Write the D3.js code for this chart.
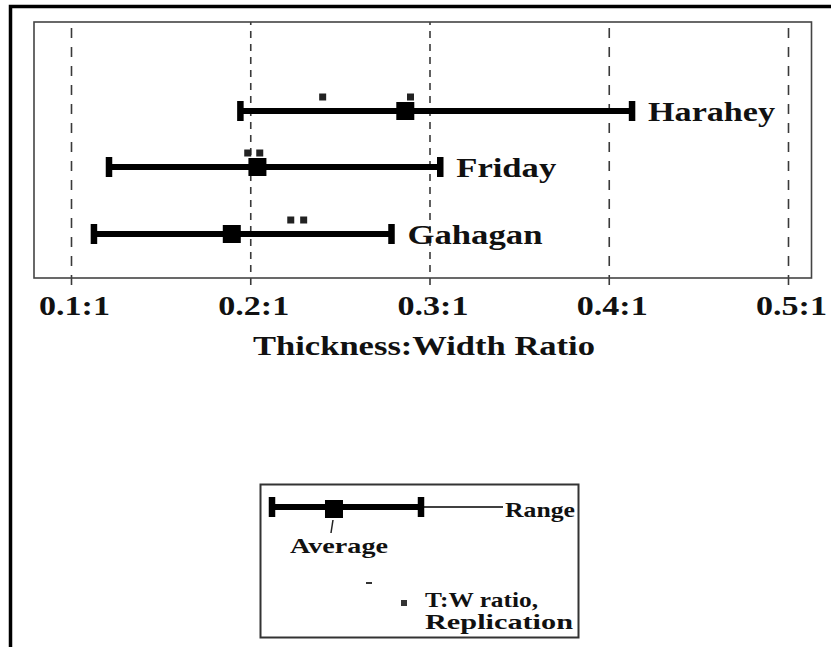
<!DOCTYPE html>
<html>
<head>
<meta charset="utf-8">
<script src="https://cdn.jsdelivr.net/npm/d3@7"></script>
<style>
  html, body { margin: 0; padding: 0; background: #fff; }
  svg { display: block; }
  svg text { font-family: "Liberation Serif", Tinos, "Times New Roman", Times, "Nimbus Roman", "Nimbus Roman No9 L", FreeSerif, serif; font-weight: bold; fill: #111; }
</style>
</head>
<body>
<svg id="chart" width="831" height="647"></svg>
<script>
// ---------- data ----------
const categories = ["Harahey", "Friday", "Gahagan"];
const minValues = [0.1945, 0.1212, 0.1128];
const maxValues = [0.4130, 0.3060, 0.2788];
const avgValues = [0.2865, 0.2040, 0.1897];
const replicationValues = [[0.2404, 0.2894], [0.1986, 0.2053], [0.2226, 0.2298]];
const tickValues = [0.1, 0.2, 0.3, 0.4, 0.5];
const tickLabels = ["0.1:1", "0.2:1", "0.3:1", "0.4:1", "0.5:1"];
const axisTitle = "Thickness:Width Ratio";
const legendSample = [0, 0.416, 1]; // min, average, max of schematic bar
const legendLabels = ["Range", "Average", "T:W ratio,", "Replication"];

// ---------- layout ----------
const FONT = '"Liberation Serif", Tinos, "Times New Roman", Times, "Nimbus Roman", FreeSerif, serif';
const svg = d3.select("#chart");
const box = { left: 34, top: 22, right: 811.5, bottom: 278 };

const x = d3.scaleLinear().domain([0.1, 0.5]).range([71, 788]);
const y = d3.scaleOrdinal().domain(categories).range([111, 167, 234]);

// outer frame
svg.append("rect")
  .attr("x", 10.5).attr("y", 6.5).attr("width", 1000).attr("height", 1000)
  .attr("fill", "none").attr("stroke", "#000").attr("stroke-width", 3.5);

// gridlines + tick labels via axis
const axisY = 285;
const axis = d3.axisBottom(x)
  .tickValues(tickValues)
  .tickFormat((d, i) => tickLabels[i])
  .tickSizeInner(-(axisY - box.top))
  .tickSizeOuter(0);

const gAxis = svg.append("g").attr("transform", `translate(0,${axisY})`).call(axis);
gAxis.attr("font-family", FONT);
gAxis.select(".domain").remove();
gAxis.selectAll(".tick line")
  .attr("stroke", "#3a3a3a").attr("stroke-width", 1.6)
  .attr("stroke-dasharray", (d, i) => (i === 1 || i === 2) ? "7,6" : "10,9");
gAxis.selectAll(".tick text")
  .attr("y", 30).attr("dy", 0).attr("dx", 3)
  .attr("font-size", 28)
  .attr("textLength", 71).attr("lengthAdjust", "spacingAndGlyphs")
  .style("font-family", FONT).style("font-weight", "bold")
  .attr("fill", "#111");

// inner plot box
svg.append("rect")
  .attr("x", box.left).attr("y", box.top)
  .attr("width", box.right - box.left).attr("height", box.bottom - box.top)
  .attr("fill", "none").attr("stroke", "#444").attr("stroke-width", 1.6);

// axis title
svg.append("text")
  .attr("x", 424).attr("y", 355).attr("text-anchor", "middle")
  .attr("font-size", 28).style("font-family", FONT)
  .attr("textLength", 342).attr("lengthAdjust", "spacingAndGlyphs")
  .text(axisTitle);

// ---------- range bars ----------
const capH = 20, capW = 6.5, sq = 18, dot = 7;
const rows = svg.append("g").selectAll("g").data(categories).join("g");

rows.append("line")
  .attr("x1", (d, i) => x(minValues[i])).attr("x2", (d, i) => x(maxValues[i]))
  .attr("y1", d => y(d)).attr("y2", d => y(d))
  .attr("stroke", "#000").attr("stroke-width", 6);

rows.append("rect")
  .attr("x", (d, i) => x(minValues[i]) - capW / 2).attr("y", d => y(d) - capH / 2)
  .attr("width", capW).attr("height", capH).attr("fill", "#000");
rows.append("rect")
  .attr("x", (d, i) => x(maxValues[i]) - capW / 2).attr("y", d => y(d) - capH / 2)
  .attr("width", capW).attr("height", capH).attr("fill", "#000");

rows.append("rect")
  .attr("x", (d, i) => x(avgValues[i]) - sq / 2).attr("y", d => y(d) - sq / 2)
  .attr("width", sq).attr("height", sq).attr("fill", "#000");

rows.each(function (d, i) {
  d3.select(this).selectAll("rect.rep").data(replicationValues[i]).join("rect")
    .attr("class", "rep")
    .attr("x", v => x(v) - dot / 2).attr("y", y(d) - 14 - dot / 2)
    .attr("width", dot).attr("height", dot).attr("fill", "#222");
});

const labelW = [127, 100, 135];
rows.append("text")
  .attr("x", (d, i) => x(maxValues[i]) + 16).attr("y", d => y(d) + 10)
  .attr("font-size", 28).style("font-family", FONT)
  .attr("textLength", (d, i) => labelW[i]).attr("lengthAdjust", "spacingAndGlyphs")
  .text(d => d);

// ---------- legend ----------
const lg = svg.append("g").style("font-family", FONT);
lg.append("rect")
  .attr("x", 260.5).attr("y", 484.5).attr("width", 318).attr("height", 153)
  .attr("fill", "none").attr("stroke", "#333").attr("stroke-width", 2);

const lx = d3.scaleLinear().domain([0, 1]).range([272, 421]);
const ly = 507;
lg.append("line").attr("x1", lx(1)).attr("x2", 503).attr("y1", ly).attr("y2", ly)
  .attr("stroke", "#000").attr("stroke-width", 1.5);
lg.append("line").attr("x1", lx(legendSample[0])).attr("x2", lx(legendSample[2]))
  .attr("y1", ly).attr("y2", ly).attr("stroke", "#000").attr("stroke-width", 6);
[legendSample[0], legendSample[2]].forEach(v => {
  lg.append("rect").attr("x", lx(v) - capW / 2).attr("y", ly - capH / 2)
    .attr("width", capW).attr("height", capH).attr("fill", "#000");
});
lg.append("rect").attr("x", lx(legendSample[1]) - sq / 2).attr("y", ly + 2 - sq / 2)
  .attr("width", sq).attr("height", sq).attr("fill", "#000");
lg.append("line").attr("x1", lx(legendSample[1]) - 1).attr("y1", ly + 13)
  .attr("x2", lx(legendSample[1]) - 3).attr("y2", ly + 26)
  .attr("stroke", "#222").attr("stroke-width", 1.5);

lg.append("text").attr("x", 505).attr("y", 517).attr("font-size", 21)
  .attr("textLength", 70).attr("lengthAdjust", "spacingAndGlyphs").text(legendLabels[0]);
lg.append("text").attr("x", 290).attr("y", 553).attr("font-size", 21)
  .attr("textLength", 98).attr("lengthAdjust", "spacingAndGlyphs").text(legendLabels[1]);
lg.append("rect").attr("x", 366).attr("y", 582).attr("width", 6).attr("height", 2).attr("fill", "#333");
lg.append("rect").attr("x", 404 - 3).attr("y", 603 - 3).attr("width", 6).attr("height", 6).attr("fill", "#333");
lg.append("text").attr("x", 425).attr("y", 607).attr("font-size", 21)
  .attr("textLength", 113).attr("lengthAdjust", "spacingAndGlyphs").text(legendLabels[2]);
lg.append("text").attr("x", 425).attr("y", 629).attr("font-size", 21)
  .attr("textLength", 148).attr("lengthAdjust", "spacingAndGlyphs").text(legendLabels[3]);
</script>
</body>
</html>
